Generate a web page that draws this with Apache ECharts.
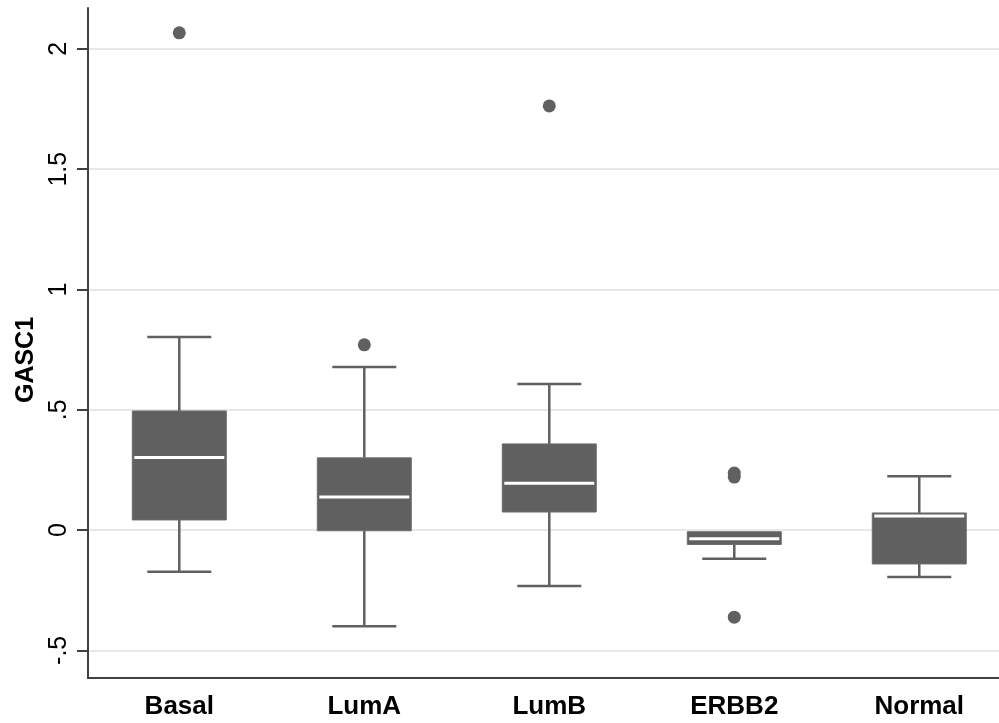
<!DOCTYPE html>
<html>
<head>
<meta charset="utf-8">
<script src="https://cdn.jsdelivr.net/npm/echarts@6/dist/echarts.min.js"></script>
<style>
html,body{margin:0;padding:0;background:#fff;}
#chart{width:999px;height:723px;}
</style>
</head>
<body>
<div id="chart"></div>
<script>
const categories = ['Basal', 'LumA', 'LumB', 'ERBB2', 'Normal'];
const lowWhisker = [-0.173, -0.40, -0.233, -0.119, -0.195];
const q1 = [0.042, -0.003, 0.075, -0.060, -0.141];
const median = [0.302, 0.137, 0.195, -0.036, 0.058];
const q3 = [0.495, 0.300, 0.358, -0.007, 0.071];
const highWhisker = [0.802, 0.678, 0.607, -0.007, 0.224];
const outlierCats = ['Basal', 'LumA', 'LumB', 'ERBB2', 'ERBB2', 'ERBB2'];
const outlierVals = [2.067, 0.770, 1.763, 0.237, 0.220, -0.362];
const yTicks = [-0.5, 0, 0.5, 1, 1.5, 2];
const xTicks = [0, 1, 2, 3, 4];

const GRAY = '#606060';
const FONT = 'Liberation Sans, Arial, Helvetica, sans-serif';
const boxData = categories.map((c, i) => [i, lowWhisker[i], q1[i], median[i], q3[i], highWhisker[i]]);
const outlierData = outlierCats.map((c, i) => [categories.indexOf(c), outlierVals[i]]);

function fmt(v) {
  if (v === 0) return '0';
  let s = String(v);
  s = s.replace(/^0\./, '.').replace(/^-0\./, '-.');
  return s;
}

const chart = echarts.init(document.getElementById('chart'), null, {renderer: 'canvas'});
chart.setOption({
  animation: false,
  backgroundColor: '#ffffff',
  grid: {left: 88, top: 8, right: 0, bottom: 45, containLabel: false},
  xAxis: {
    type: 'value',
    min: -0.4935,
    max: 4.431,
    axisLine: {show: true, onZero: false, lineStyle: {color: '#404040', width: 2}},
    axisTick: {show: false},
    axisLabel: {
      customValues: xTicks,
      formatter: function (v) { return categories[Math.round(v)] || ''; },
      color: '#000', fontFamily: FONT,
      fontWeight: 'bold', fontSize: 26, margin: 16
    },
    splitLine: {show: false}
  },
  yAxis: {
    type: 'value',
    min: -0.615,
    max: 2.17,
    name: 'GASC1',
    nameLocation: 'middle',
    nameGap: 47,
    nameRotate: 90,
    nameTextStyle: {color: '#000', fontFamily: FONT, fontWeight: 'bold', fontSize: 25, padding: [0, 0, 0, -34]},
    axisLine: {show: true, onZero: false, lineStyle: {color: '#404040', width: 2}},
    axisTick: {show: true, length: 11, customValues: yTicks, lineStyle: {color: '#404040', width: 2}},
    axisLabel: {
      customValues: yTicks,
      rotate: 90,
      formatter: fmt,
      color: '#000', fontFamily: FONT,
      fontSize: 25, margin: 16
    },
    splitLine: {show: true, lineStyle: {color: '#e8e8e8', width: 2}}
  },
  series: [
    {
      type: 'custom',
      data: boxData,
      encode: {x: 0, y: [1, 2, 3, 4, 5]},
      renderItem: function (params, api) {
        const x = api.value(0);
        const pLow = api.coord([x, api.value(1)]);
        const pQ1 = api.coord([x, api.value(2)]);
        const pMed = api.coord([x, api.value(3)]);
        const pQ3 = api.coord([x, api.value(4)]);
        const pHigh = api.coord([x, api.value(5)]);
        const band = api.size([1, 0])[0];
        const hw = band * 0.254;
        const cw = band * 0.173;
        const cx = pMed[0];
        const lineStyle = {stroke: GRAY, lineWidth: 2.5};
        const children = [];
        children.push({type: 'line', shape: {x1: cx, y1: pQ3[1], x2: cx, y2: pHigh[1]}, style: lineStyle});
        children.push({type: 'line', shape: {x1: cx, y1: pQ1[1], x2: cx, y2: pLow[1]}, style: lineStyle});
        if (Math.abs(pHigh[1] - pQ3[1]) > 1) {
          children.push({type: 'line', shape: {x1: cx - cw, y1: pHigh[1], x2: cx + cw, y2: pHigh[1]}, style: lineStyle});
        }
        children.push({type: 'line', shape: {x1: cx - cw, y1: pLow[1], x2: cx + cw, y2: pLow[1]}, style: lineStyle});
        children.push({
          type: 'rect',
          shape: {x: cx - hw, y: pQ3[1], width: 2 * hw, height: pQ1[1] - pQ3[1]},
          style: {fill: GRAY, stroke: '#6c6c6c', lineWidth: 1}
        });
        children.push({
          type: 'line',
          shape: {x1: cx - hw + 2, y1: pMed[1], x2: cx + hw - 2, y2: pMed[1]},
          style: {stroke: '#ffffff', lineWidth: 3}
        });
        return {type: 'group', children: children};
      },
      z: 3
    },
    {
      type: 'scatter',
      data: outlierData,
      symbol: 'circle',
      symbolSize: 13,
      itemStyle: {color: GRAY, opacity: 1},
      z: 4
    }
  ]
});
</script>
</body>
</html>
